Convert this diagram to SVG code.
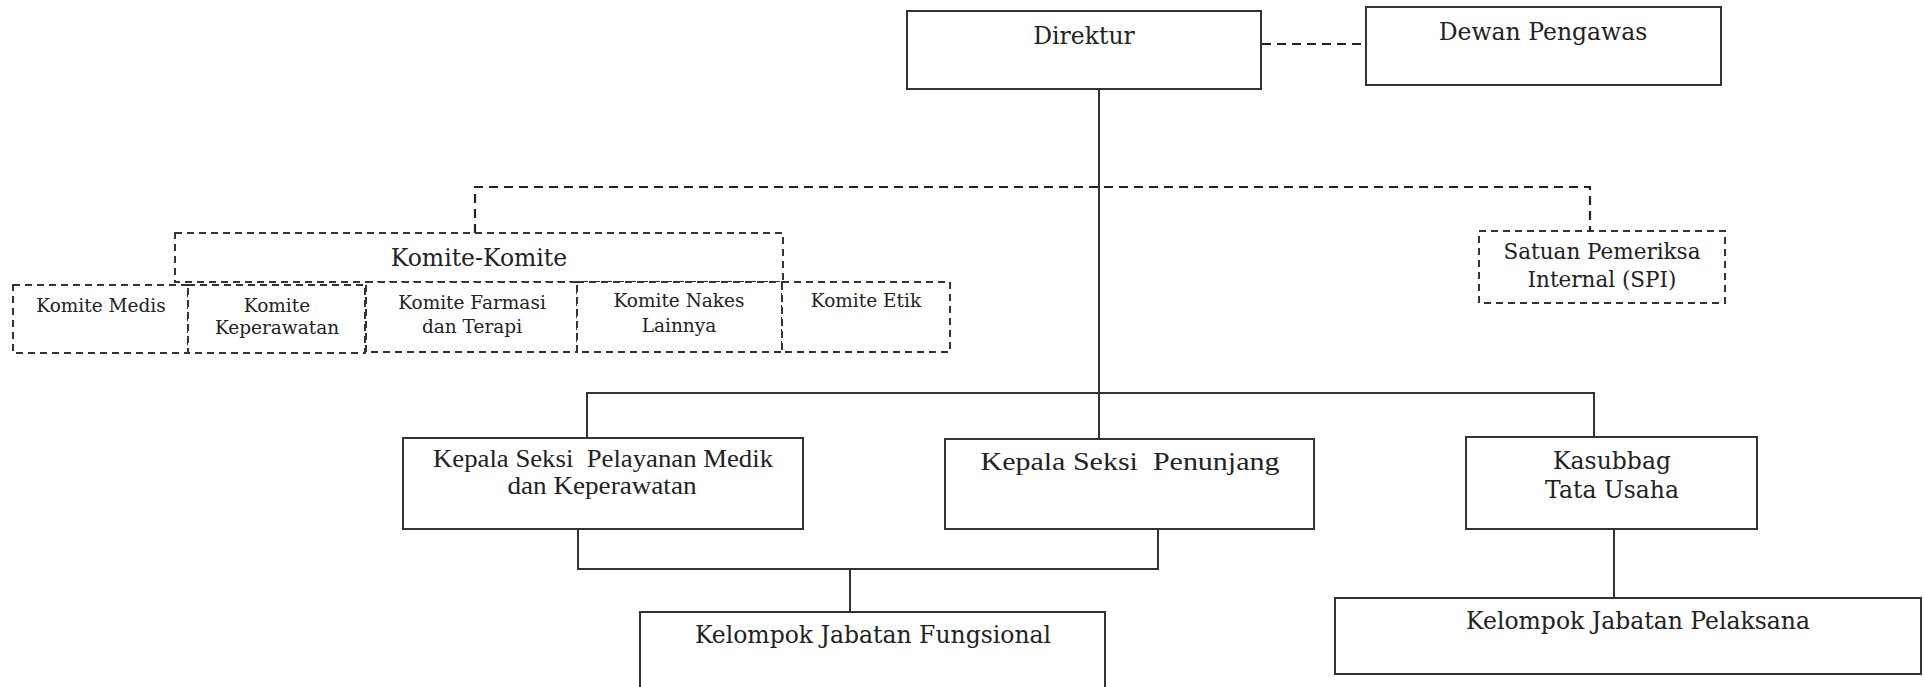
<svg xmlns="http://www.w3.org/2000/svg" width="1924" height="687" viewBox="0 0 1924 687">
<style>
.box{fill:#fff;stroke:#333;stroke-width:2}
.dbox{fill:#fff;stroke:#333;stroke-width:2;stroke-dasharray:7 5}
.solid{fill:none;stroke:#333;stroke-width:2}
.dash{fill:none;stroke:#222;stroke-width:2.2;stroke-dasharray:9 6}
.t{font-family:"DejaVu Serif","Liberation Serif",serif;fill:#222;text-anchor:middle}
.big{font-size:23.5px}
.sm{font-size:18.5px}
.mid{font-size:21.5px}
.tn{font-family:"Liberation Serif","Times New Roman",serif;fill:#222;text-anchor:middle;font-size:25px}
</style>
<rect width="1924" height="687" fill="#fff"/>
<g id="connectors">
<line class="dash" x1="1262" y1="44" x2="1366" y2="44"/>
<line class="solid" x1="1099" y1="89" x2="1099" y2="439"/>
<polyline class="dash" points="475,233 475,187 1590,187 1590,231"/>
<polyline class="solid" points="587,438 587,393 1594,393 1594,437"/>
<polyline class="solid" points="578,529 578,569 1158,569 1158,529"/>
<line class="solid" x1="850" y1="569" x2="850" y2="612"/>
<line class="solid" x1="1614" y1="529" x2="1614" y2="598"/>
</g>
<g id="direktur"><rect class="box" x="907" y="11" width="354" height="78"/><text class="t big" x="1084" y="44">Direktur</text></g>
<g id="dewan"><rect class="box" x="1366" y="7" width="355" height="78"/><text class="t big" x="1543" y="40">Dewan Pengawas</text></g>
<g id="komite-komite"><rect class="dbox" x="175" y="233" width="608" height="49"/><text class="t big" x="479" y="266">Komite-Komite</text></g>
<g id="komite-medis"><rect class="dbox" x="13" y="285" width="175" height="68"/><text class="t sm" x="101" y="312">Komite Medis</text></g>
<g id="komite-keperawatan"><rect class="dbox" x="188" y="285" width="177" height="68"/><text class="t sm" x="277" y="312">Komite</text><text class="t sm" x="277" y="334">Keperawatan</text></g>
<g id="komite-farmasi"><rect class="dbox" x="366" y="282" width="211" height="70"/><text class="t sm" x="472" y="309">Komite Farmasi</text><text class="t sm" x="472" y="333">dan Terapi</text></g>
<g id="komite-nakes"><rect class="dbox" x="577" y="282" width="205" height="70"/><text class="t sm" x="679" y="307">Komite Nakes</text><text class="t sm" x="679" y="332">Lainnya</text></g>
<g id="komite-etik"><rect class="dbox" x="782" y="282" width="168" height="70"/><text class="t sm" x="866" y="307">Komite Etik</text></g>
<g id="spi"><rect class="dbox" x="1479" y="231" width="246" height="72"/><text class="t mid" x="1602" y="259">Satuan Pemeriksa</text><text class="t mid" x="1602" y="287">Internal (SPI)</text></g>
<g id="seksi-pelayanan"><rect class="box" x="403" y="438" width="400" height="91"/><text class="tn" x="603" y="467" textLength="340" lengthAdjust="spacingAndGlyphs" xml:space="preserve">Kepala Seksi  Pelayanan Medik</text><text class="tn" x="602" y="494" textLength="189" lengthAdjust="spacingAndGlyphs">dan Keperawatan</text></g>
<g id="seksi-penunjang"><rect class="box" x="945" y="439" width="369" height="90"/><text class="tn" x="1130" y="470" textLength="299" lengthAdjust="spacingAndGlyphs" xml:space="preserve">Kepala Seksi  Penunjang</text></g>
<g id="kasubbag"><rect class="box" x="1466" y="437" width="291" height="92"/><text class="t big" x="1612" y="469">Kasubbag</text><text class="t big" x="1612" y="498">Tata Usaha</text></g>
<g id="fungsional"><rect class="box" x="640" y="612" width="465" height="80"/><text class="t big" x="873" y="643">Kelompok Jabatan Fungsional</text></g>
<g id="pelaksana"><rect class="box" x="1335" y="598" width="586" height="76"/><text class="t big" x="1638" y="629">Kelompok Jabatan Pelaksana</text></g>
</svg>
